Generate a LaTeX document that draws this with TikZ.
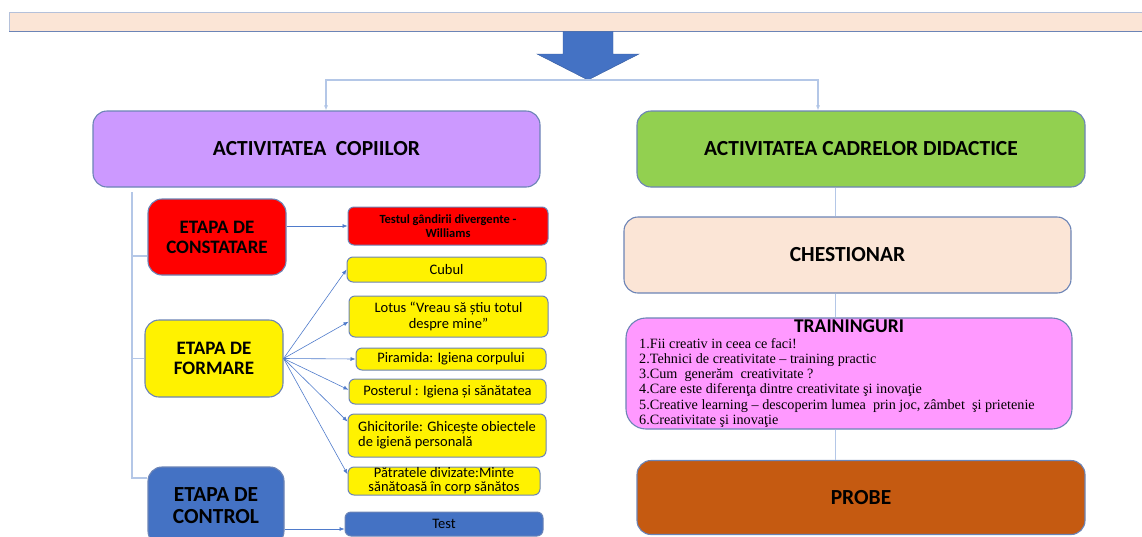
\documentclass[tikz,border=0pt]{standalone}
\usepackage{fontspec}
\setmainfont{Carlito}
\newfontfamily\listfont{Liberation Serif}
\usetikzlibrary{arrows.meta}

\definecolor{peach}{HTML}{FBE5D6}
\definecolor{edge}{RGB}{108,132,182}
\definecolor{arrowblue}{HTML}{4472C4}
\definecolor{paleblue}{HTML}{B4C7E7}
\definecolor{linkblue}{HTML}{4F7BCB}
\definecolor{lilac}{HTML}{CC99FF}
\definecolor{leaf}{HTML}{92D050}
\definecolor{pinkish}{HTML}{FF99FF}
\definecolor{rust}{HTML}{C55A11}
\definecolor{boxblue}{HTML}{4472C4}

\begin{document}
\begin{tikzpicture}[x=1pt,y=-1pt,
	bigbox/.style={draw=edge, line width=1.1pt, rounded corners=14pt, inner sep=0pt, align=center, font=\fontsize{21.5}{24}\selectfont\bfseries},
	stagebox/.style={bigbox, font=\fontsize{19}{20}\selectfont\bfseries},
	smallbox/.style={draw=edge, line width=1pt, rounded corners=6pt, inner sep=0pt, align=center, fill=yellow, font=\fontsize{14.5}{15.5}\selectfont},
	link/.style={draw=linkblue, line width=0.6pt, -{Latex[length=5pt,width=4pt]}},
	toplink/.style={draw=paleblue, line width=1.2pt, -{Latex[length=5pt,width=4pt,fill=arrowblue]}},
	trunk/.style={draw=paleblue, line width=1.4pt}]
	\useasboundingbox (0,0) rectangle (1142,536);
	\clip (0,0) rectangle (1142,536);

	% banner and big arrow
	\node[fill=peach, draw=edge!50, line width=0.6pt, minimum width=1150pt, minimum height=19pt, anchor=north west, inner sep=0pt] (banner) at (9,12) {};
	\draw[edge, line width=1pt] (banner.south west) -- (banner.south east);
	\filldraw[fill=arrowblue, draw=arrowblue!80!black, line width=0.4pt] (563,31.5) -- (613,31.5) -- (613,54) -- (639,54) -- (588,80) -- (537,54) -- (563,54) -- cycle;
	\coordinate (tip) at (588,80);
	\coordinate (lft) at (326,80);
	\coordinate (rgt) at (818,80);

	% left column
	\node[bigbox, fill=lilac, minimum width=447pt, minimum height=76pt] (copii) at (316.5,149) {ACTIVITATEA~~COPIILOR};
	\node[stagebox, fill=red, minimum width=138pt, minimum height=76pt] (constatare) at (217,237) {ETAPA DE\\CONSTATARE};
	\node[stagebox, fill=yellow, minimum width=138pt, minimum height=77pt] (formare) at (214,358.5) {ETAPA DE\\FORMARE};
	\node[stagebox, fill=boxblue, minimum width=136pt, minimum height=78pt, font=\fontsize{21.5}{22}\selectfont\bfseries] (control) at (216,506) {ETAPA DE\\CONTROL};

	\node[smallbox, fill=red, minimum width=200pt, minimum height=38pt, font=\fontsize{12.5}{13.5}\selectfont\bfseries] (testW) at (448,226) {Testul gândirii divergente -\\Williams};
	\node[smallbox, minimum width=199pt, minimum height=25pt] (cubul) at (446.5,269.5) {Cubul};
	\node[smallbox, minimum width=199pt, minimum height=41pt] (lotus) at (448.5,316.5) {Lotus “Vreau să știu totul\\despre mine”};
	\node[smallbox, minimum width=190pt, minimum height=22pt] (piramida) at (451,359) {Piramida: Igiena corpului};
	\node[smallbox, minimum width=197pt, minimum height=25pt] (poster) at (447.5,391.5) {Posterul : Igiena și sănătatea};
	\node[smallbox, minimum width=198pt, minimum height=43pt, align=left, font=\fontsize{14.5}{15}\selectfont] (ghicit) at (447,435.5) {Ghicitorile: Ghicește obiectele\\de igienă personală};
	\node[smallbox, minimum width=192pt, minimum height=28pt, font=\fontsize{14.5}{14}\selectfont] (patrate) at (444,481) {Pătratele divizate:Minte\\sănătoasă în corp sănătos};
	\node[smallbox, fill=boxblue, minimum width=198pt, minimum height=24pt] (test) at (444,524) {Test};

	% right column
	\node[bigbox, fill=leaf, minimum width=448pt, minimum height=76pt] (cadre) at (861,149) {ACTIVITATEA CADRELOR DIDACTICE};
	\node[bigbox, fill=peach, minimum width=447pt, minimum height=76pt] (chestionar) at (847.5,255) {CHESTIONAR};
	\node[bigbox, fill=pinkish, rounded corners=20pt, minimum width=446pt, minimum height=111pt] (train) at (849,373.5) {};
	\node[anchor=north, inner sep=0pt, font=\fontsize{19.5}{20}\selectfont\bfseries] (traintitle) at (849,319.5) {TRAININGURI};
	\node[anchor=north west, inner sep=0pt, align=left, font=\listfont\fontsize{14.2}{15.2}\selectfont] (trainlist) at (639,338) {1.Fii creativ in ceea ce faci!\\
		2.Tehnici de creativitate – training practic\\
		3.Cum~ generăm~ creativitate ?\\
		4.Care este diferenţa dintre creativitate şi inovaţie\\
		5.Creative learning – descoperim lumea~ prin joc, zâmbet~ şi prietenie\\
		6.Creativitate şi inovaţie};
	\node[bigbox, fill=rust, minimum width=448pt, minimum height=74pt] (probe) at (861,497.5) {PROBE};

	% connectors
	\draw[toplink] (tip) -- (lft) -- (lft |- copii.north);
	\draw[toplink] (tip) -- (rgt) -- (rgt |- cadre.north);

	\coordinate (tr) at (132,192);
	\draw[trunk] (tr) |- ([yshift=28pt]control.west);
	\draw[trunk] ([yshift=-19pt]constatare.west) -- +(-16pt,0);
	\draw[trunk] (formare.west) -- (tr |- formare.west);

	\draw[link] (constatare.east |- testW.west) -- (testW.west);
	\draw[link] (formare.east) -- (cubul.west);
	\draw[link] (formare.east) -- (lotus.183);
	\draw[link] (formare.east) -- (piramida.west);
	\draw[link] (formare.east) -- (poster.179);
	\draw[link] (formare.east) -- (ghicit.172);
	\draw[link] (formare.east) -- (patrate.176);
	\draw[link] ([yshift=-5pt]control.east |- test.west) -- ([yshift=-5pt]test.west);

	\draw[trunk, line width=1pt] ([xshift=-26pt]cadre.south) -- ([xshift=-12.5pt]chestionar.north);
	\draw[trunk, line width=1pt] ([xshift=-12.5pt]chestionar.south) -- ([xshift=-14pt]train.north);
	\draw[trunk, line width=1pt] ([xshift=-14pt]train.south) -- ([xshift=-26pt]probe.north);
\end{tikzpicture}
\end{document}
